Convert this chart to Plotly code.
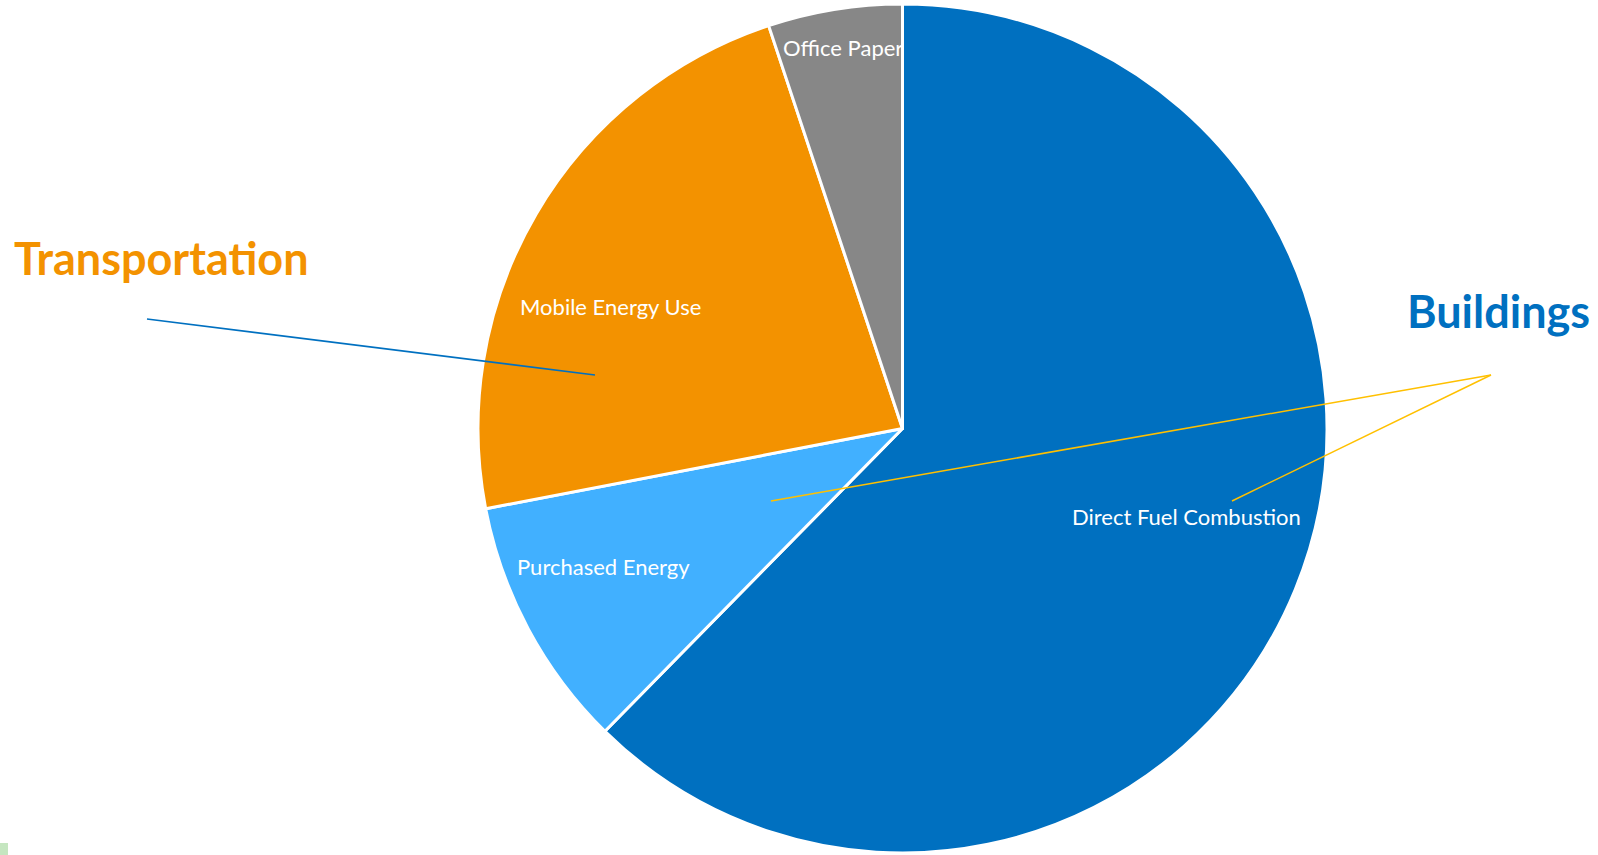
import plotly.graph_objects as go

# Data
categories = ["Direct Fuel Combustion", "Purchased Energy", "Mobile Energy Use", "Office Paper"]
values = [62.3, 9.6, 22.9, 5.1]
colors = ["#0070C0", "#41B0FF", "#F39200", "#878787"]
group_labels = ["Transportation", "Buildings"]

W, H = 1598, 855

def px(x):
    return x / W

def py(y):
    return 1 - y / H

fig = go.Figure()
fig.add_trace(go.Pie(
    labels=categories,
    values=values,
    sort=False,
    direction="clockwise",
    rotation=0,
    marker=dict(colors=colors, line=dict(color="white", width=3)),
    textinfo="none",
    hoverinfo="label+percent",
    showlegend=False,
    domain=dict(x=[px(478), px(1327)], y=[py(853), py(4)]),
))

# slice labels
label_pos = {
    "Direct Fuel Combustion": (1186, 516),
    "Purchased Energy": (603, 566),
    "Mobile Energy Use": (610, 306),
    "Office Paper": (843, 48),
}
annotations = []
for c in categories:
    x, y = label_pos[c]
    annotations.append(dict(
        x=px(x), y=py(y), xref="paper", yref="paper", text=c, showarrow=False,
        xanchor="center", yanchor="middle",
        font=dict(family="Lato", size=22, color="white"),
    ))

annotations.append(dict(
    x=px(161), y=py(258), xref="paper", yref="paper", text="<b>" + group_labels[0] + "</b>",
    showarrow=False, xanchor="center", yanchor="middle",
    font=dict(family="Lato", size=45, color="#F39200"),
))
annotations.append(dict(
    x=px(1498), y=py(311), xref="paper", yref="paper", text="<b>" + group_labels[1] + "</b>",
    showarrow=False, xanchor="center", yanchor="middle",
    font=dict(family="Lato", size=45, color="#0070C0"),
))

shapes = [
    dict(type="line", xref="paper", yref="paper", x0=px(147), y0=py(319), x1=px(595), y1=py(375),
         line=dict(color="#0070C0", width=1.5)),
    dict(type="line", xref="paper", yref="paper", x0=px(1491), y0=py(375), x1=px(771), y1=py(501),
         line=dict(color="#FFC000", width=1.5)),
    dict(type="line", xref="paper", yref="paper", x0=px(1491), y0=py(375), x1=px(1232), y1=py(501),
         line=dict(color="#FFC000", width=1.5)),
    dict(type="rect", xref="paper", yref="paper", x0=0, y0=0, x1=px(8), y1=py(843),
         line=dict(width=0), fillcolor="#C5E6C0"),
]

fig.update_layout(
    width=W, height=H,
    margin=dict(l=0, r=0, t=0, b=0),
    paper_bgcolor="white",
    plot_bgcolor="white",
    annotations=annotations,
    shapes=shapes,
)

fig.write_html(
    "out.html",
    config={"displayModeBar": False},
    post_script="document.body.style.margin='0';document.body.style.overflow='hidden';",
)
